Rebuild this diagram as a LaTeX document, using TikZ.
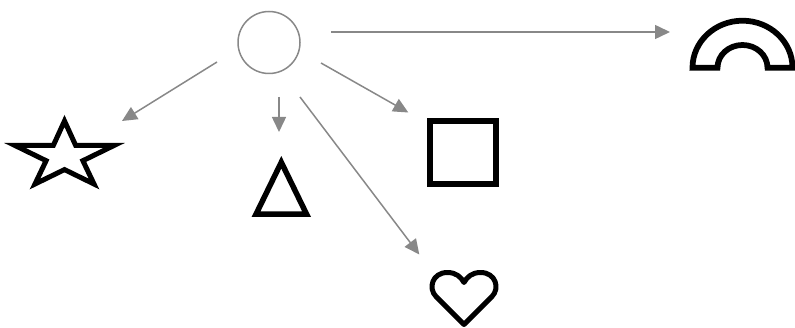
\documentclass[tikz,border=0pt]{standalone}
\usetikzlibrary{arrows.meta}
\definecolor{arrgray}{RGB}{136,136,136}
\begin{document}
\begin{tikzpicture}[x=1pt,y=-1pt,
  arr/.style={draw=arrgray,line width=1.5pt,-{Triangle[length=15pt,width=14pt]}},
  shapeline/.style={draw=black,line width=5.5pt,fill=white},
  ]
\useasboundingbox (0,0) rectangle (795,328);
% hub circle
\node[circle,draw=arrgray,line width=1.5pt,minimum size=62pt,inner sep=0pt] (hub) at (269,42.5) {};
% square
\node[rectangle,draw=black,line width=6pt,minimum width=66pt,minimum height=62.4pt,inner sep=0pt] (square) at (463.3,152.5) {};
% star
\coordinate (star) at (64.5,155);
\draw[shapeline,line width=5pt] (64.5,121) -- (75.7,145.5) -- (114,145.5) -- (82.9,160.7)
  -- (94,184) -- (64.5,169.6) -- (35,184) -- (46.1,160.7) -- (15,145.5) -- (53.3,145.5) -- cycle;
% triangle
\coordinate (triangle) at (281.3,195);
\draw[shapeline] (256,214.25) -- (281.3,162.3) -- (306.6,214.25) -- cycle;
% heart
\coordinate (heart) at (464,295);
\draw[shapeline,line width=5pt,line join=round] (464,324.5) -- (436,296.5)
  .. controls (428,288.5) and (432,272.5) .. (447.5,272.5)
  .. controls (456,272.5) and (461,277) .. (464,282.5)
  .. controls (467,277) and (472,272.5) .. (480.5,272.5)
  .. controls (496,272.5) and (500,288.5) .. (492,296.5) -- cycle;
% arch
\coordinate (arch) at (742.5,45);
\draw[shapeline,line width=5.75pt] (692.5,67.7) arc[start angle=180,end angle=360,x radius=50,y radius=47]
  -- (767.5,67.7) arc[start angle=0,end angle=-180,x radius=25,y radius=22.7] -- cycle;
% connector ends
\coordinate (s1) at (217,62);   \coordinate (e1) at (122,121);
\coordinate (s2) at (279,97);   \coordinate (e2) at (279,132);
\coordinate (s3) at (300,97);   \coordinate (e3) at (419.3,254.5);
\coordinate (s4) at (321,63);   \coordinate (e4) at (408.3,112.5);
\coordinate (s5) at (331,32);   \coordinate (e5) at (670,32);
\draw[arr] (s1) -- (e1);
\draw[arr] (s2) -- (e2);
\draw[arr] (s3) -- (e3);
\draw[arr] (s4) -- (e4);
\draw[arr] (s5) -- (e5);
\end{tikzpicture}
\end{document}
